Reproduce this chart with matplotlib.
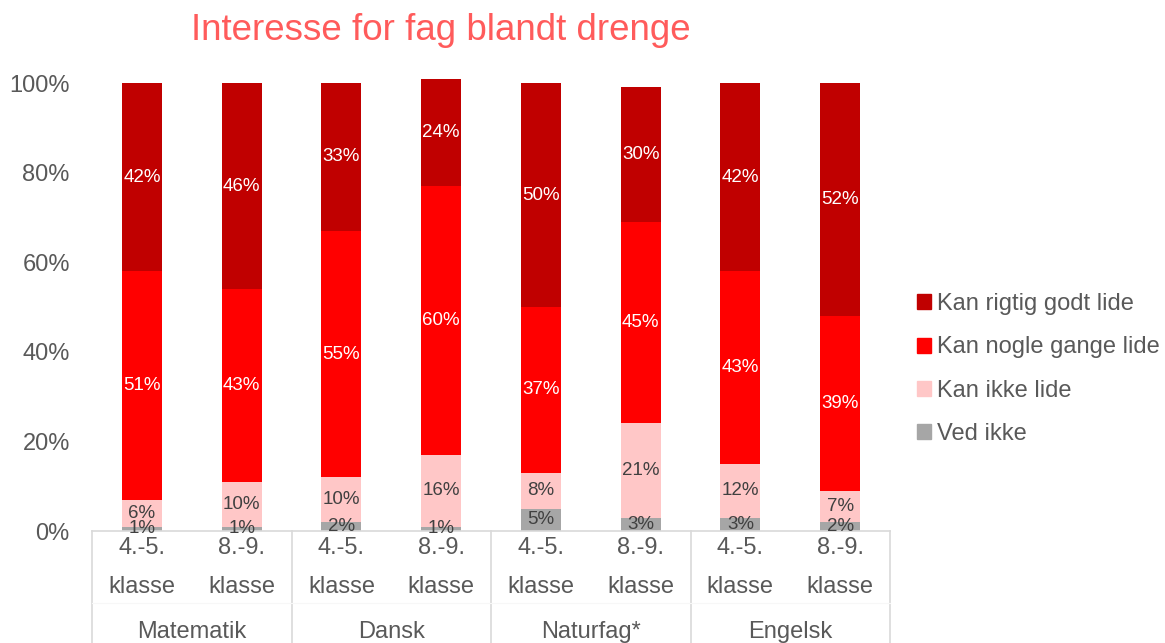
import numpy as np
import matplotlib
matplotlib.use("Agg")
import matplotlib.pyplot as plt
from matplotlib.patches import Patch

plt.rcParams['font.family'] = ['Liberation Sans', 'DejaVu Sans']

# data (percent)
subjects = ['Matematik', 'Dansk', 'Naturfag*', 'Engelsk']
grades = ['4.-5.\nklasse', '8.-9.\nklasse']
series = ['Ved ikke', 'Kan ikke lide', 'Kan nogle gange lide', 'Kan rigtig godt lide']
ved_ikke = [1, 1, 2, 1, 5, 3, 3, 2]
ikke_lide = [6, 10, 10, 16, 8, 21, 12, 7]
nogle_gange = [51, 43, 55, 60, 37, 45, 43, 39]
rigtig_godt = [42, 46, 33, 24, 50, 30, 42, 52]

colors = ['#A6A6A6', '#FFC7C7', '#FF0000', '#C00000']
label_colors = ['#404040', '#404040', 'white', 'white']
grey_txt = '#595959'
line_col = '#D9D9D9'

fig = plt.figure(figsize=(11.65, 6.43), dpi=100)
ax = fig.add_axes([92 / 1165, 112 / 643, 798 / 1165, 448 / 643])

x = np.arange(len(ved_ikke))
bottom = np.zeros(len(x))
for vals, col, lc in zip([ved_ikke, ikke_lide, nogle_gange, rigtig_godt], colors, label_colors):
    v = np.array(vals) / 100
    ax.bar(x, v, 0.4, bottom=bottom, color=col, clip_on=False, zorder=2)
    for xi, b, h, n in zip(x, bottom, v, vals):
        ax.text(xi, b + h / 2, f'{n}%', ha='center', va='center', fontsize=13.5,
                color=lc, zorder=3)
    bottom += v

ax.set_xlim(-0.5, 7.5)
ax.set_ylim(0, 1)
ax.set_yticks(np.arange(0, 1.01, 0.2))
ax.set_yticklabels([f'{int(t * 100)}%' for t in np.arange(0, 1.01, 0.2)])
ax.tick_params(axis='y', length=0, labelsize=17, labelcolor=grey_txt, pad=16)
ax.set_xticks([])
for s in ['top', 'right', 'left']:
    ax.spines[s].set_visible(False)
ax.spines['bottom'].set_color(line_col)
ax.spines['bottom'].set_linewidth(1.2)

# two-level category axis
trans = ax.get_xaxis_transform()
for i in range(len(x)):
    ax.text(x[i], -0.081, grades[i % 2], transform=trans, ha='center', va='center',
            fontsize=17, color=grey_txt, linespacing=2.0)
for j, s in enumerate(subjects):
    ax.text(2 * j + 0.5, -0.226, s, transform=trans, ha='center', va='center',
            fontsize=17, color=grey_txt)
for xs in np.arange(-0.5, 8, 2):
    ax.plot([xs, xs], [0, -0.26], transform=trans, color=line_col, lw=1.2, clip_on=False)
ax.plot([-0.5, 7.5], [-0.161, -0.161], transform=trans, color='#F7F7F7', lw=0.8, clip_on=False)

fig.text(441 / 1165, 1 - 31 / 643, 'Interesse for fag blandt drenge', ha='center', va='center',
         fontsize=26.5, color='#FF5B5B')

handles = [Patch(color=c, label=l) for c, l in zip(colors[::-1], series[::-1])]
fig.legend(handles=handles, loc='center left', bbox_to_anchor=(896 / 1165, 1 - 369 / 643),
           frameon=False, fontsize=17, labelcolor=grey_txt, handlelength=0.6, handleheight=0.6,
           handletextpad=0.25, labelspacing=0.9)

fig.savefig('out.png', dpi=100)
